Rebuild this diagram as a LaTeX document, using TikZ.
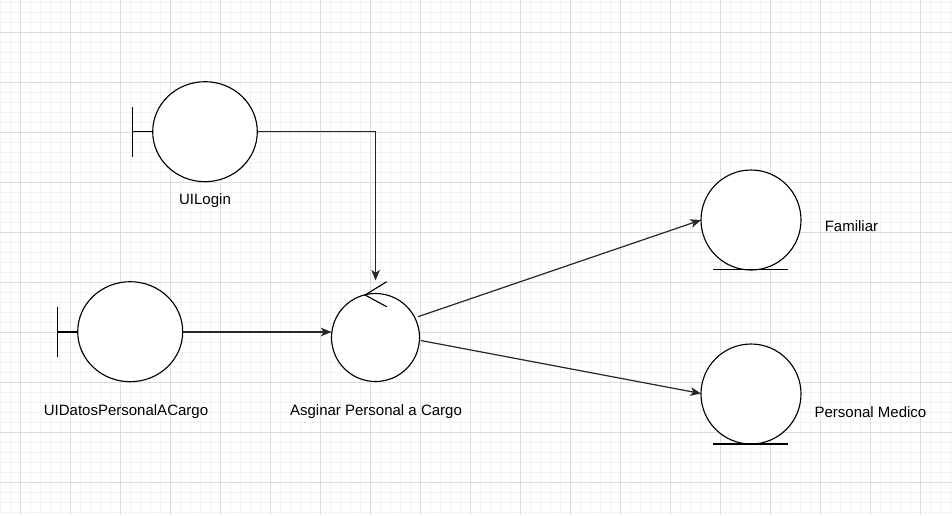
\documentclass[tikz,border=0pt]{standalone}
\usepackage{fontspec}
\setmainfont{Liberation Sans}
\usetikzlibrary{arrows.meta}
\definecolor{minorgrid}{HTML}{F2F2F2}
\definecolor{majorgrid}{HTML}{DCDCDC}
\begin{document}
\begin{tikzpicture}[x=0.75pt,y=-0.75pt,
  shapeline/.style={draw=black,line width=0.85pt},
  conn/.style={draw=black!85,line width=0.9pt,-{Stealth[length=8pt,width=6.5pt,inset=2.2pt]}},
  lbl/.style={font=\fontsize{11.25pt}{13pt}\selectfont,text=black,inner sep=0pt}
]
\useasboundingbox (0,0) rectangle (952,515);
\fill[white] (0,0) rectangle (952,515);
% grid
\foreach \x in {0,10,...,950} \draw[minorgrid,line width=0.6pt] (\x,0) -- (\x,515);
\foreach \y in {2,12,...,512} \draw[minorgrid,line width=0.6pt] (0,\y) -- (952,\y);
\foreach \x in {20,70,...,920} \draw[majorgrid,line width=0.75pt] (\x,0) -- (\x,515);
\foreach \y in {32,82,...,482} \draw[majorgrid,line width=0.75pt] (0,\y) -- (952,\y);

% UILogin boundary
\draw[shapeline,fill=white] (205,131.7) ellipse [x radius=52.3, y radius=50];
\coordinate (loginE) at (257.3,131.7);
\coordinate (bend) at (375.6,131.7);
\draw[shapeline] (132.3,106.7) -- (132.3,156.7);
\draw[shapeline] (132.3,131.7) -- (152.7,131.7);
\node[lbl] (loginlbl) at (205,201) {UILogin};

% UIDatosPersonalACargo boundary
\draw[shapeline,fill=white] (130.2,331.7) ellipse [x radius=52.5, y radius=50];
\coordinate (datosE) at (182.7,332);
\draw[shapeline] (57.3,306.7) -- (57.3,356.7);
\draw[shapeline] (57.3,332) -- (77.7,332);
\node[lbl] (datoslbl) at (126,412) {UIDatosPersonalACargo};

% Control
\draw[shapeline,fill=white] (375.5,337.5) circle [radius=44];
\coordinate (ctrlW) at (331.5,332);
\coordinate (ctrlTop) at (375.6,280.5);
\coordinate (ctrlA) at (418,316.7);
\coordinate (ctrlB) at (420.7,340.5);
\draw[shapeline] (386.7,281.7) -- (365,295) -- (386.7,306.7);
\node[lbl] (ctrllbl) at (376,412) {Asginar Personal a Cargo};

% Entities
\draw[shapeline,fill=white] (751,220) circle [radius=50];
\draw[shapeline] (713.3,269.5) -- (788.3,269.5);
\coordinate (famW) at (701,220);
\node[lbl,anchor=west] (famlbl) at (824.5,226) {Familiar};

\draw[shapeline,fill=white] (751,394) circle [radius=50];
\draw[shapeline] (713.3,444) -- (788.3,444);
\coordinate (medW) at (701,393.5);
\node[lbl,anchor=west] (medlbl) at (814.3,412) {Personal Medico};

% connectors
\draw[conn] (loginE) -- (bend) -- (ctrlTop);
\draw[conn] (datosE) -- (ctrlW);
\draw[conn] (ctrlA) -- (famW);
\draw[conn] (ctrlB) -- (medW);
\end{tikzpicture}
\end{document}
